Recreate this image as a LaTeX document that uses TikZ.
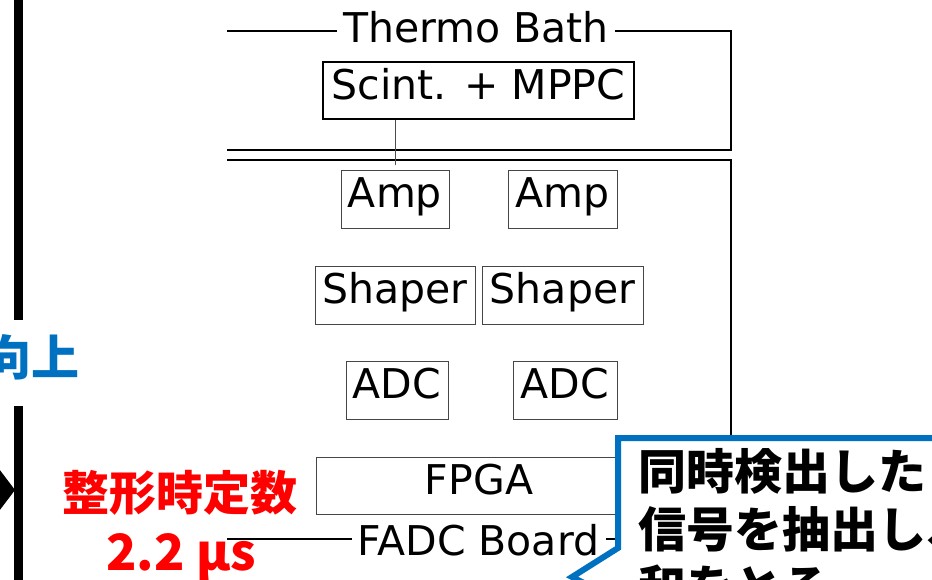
\documentclass[tikz,border=0pt]{standalone}
\usepackage{fontspec}
\setmainfont{DejaVu Sans}
\newfontfamily\jp{Noto Sans CJK JP}
\definecolor{slideblue}{HTML}{0070C0}
\definecolor{slidered}{HTML}{FF0000}
\begin{document}
\begin{tikzpicture}[x=1pt,y=-1pt,
  blk/.style={draw=gray!55!black, line width=0.9pt, inner sep=0pt, minimum height=58pt,
    font=\fontsize{41}{41}\selectfont, text height=30pt, text depth=13pt},
  frameline/.style={draw=black, line width=1.3pt},
  title/.style={inner sep=6pt, font=\fontsize{41}{41}\selectfont},
  jpred/.style={text=slidered, font=\jp\bfseries\fontsize{47}{47}\selectfont, inner sep=0pt},
  jpblack/.style={text=black, font=\jp\bfseries\fontsize{48}{48}\selectfont, inner sep=0pt, anchor=base west},
  link/.style={draw=gray!60!black, line width=0.8pt}]
\useasboundingbox (0,0) rectangle (932,579);
\clip (0,0) rectangle (932,579);

% left thick line and arrow head
\draw[line width=8.5pt] (18.5,-5) -- (18.5,320);
\draw[line width=8.5pt] (18.5,406) -- (18.5,590);
\fill (-10,457) -- (15,490) -- (-10,523) -- cycle;

% Japanese side labels
\node[anchor=base east, text=slideblue, font=\jp\bfseries\fontsize{48}{48}\selectfont, inner sep=0pt] (kojo) at (80,375) {向上};
\node[jpred, anchor=base] (seikei) at (180,510) {整形時定数};
\node[jpred, anchor=base, font=\jp\bfseries\fontsize{50}{50}\selectfont] (tau) at (181,570) {2.2 μs};

% Thermo bath frame
\node[title, text height=30pt, text depth=8pt] (thermo) at (476,31) {Thermo Bath};
\draw[frameline] (227,31) -- (thermo.west);
\draw[frameline] (thermo.east) -- (731,31) -- (731,150) -- (227,150);

% FADC board frame
\node[title, text height=32pt, text depth=0pt] (fadc) at (478.5,539) {FADC Board};
\draw[frameline] (227,160) -- (731,160) -- (731,445);
\draw[frameline] (227,539) -- (fadc.west);
\draw[frameline] (fadc.east) -- (640,539);

% boxes
\node[blk, draw=black, line width=1.6pt, minimum width=311pt, minimum height=57pt] (scint) at (478.5,90.5) {Scint. + MPPC};
\node[blk, minimum width=108pt] (amp1) at (395,199) {Amp};
\node[blk, minimum width=109pt] (amp2) at (562.5,199) {Amp};
\node[blk, minimum width=160pt] (sh1) at (395,295) {Shaper};
\node[blk, minimum width=161pt] (sh2) at (562.5,295) {Shaper};
\node[blk, minimum width=102pt] (adc1) at (397,390) {ADC};
\node[blk, minimum width=104pt] (adc2) at (565,390) {ADC};
\node[blk, minimum width=326pt, minimum height=57pt] (fpga) at (479,485.5) {FPGA};

\draw[link] (scint.south -| amp1) -- ++(0,45);

% callout
\draw[draw=slideblue, line width=6pt, fill=white, line join=miter]
  (945,438) -- (618,438) -- (618,548) -- (572,577) -- (618,600) -- (618,620) -- (945,620) -- cycle;
\node[jpblack] (call1) at (638,489) {同時検出した};
\node[jpblack] (call2) at (638,547) {信号を抽出し、};
\node[jpblack] (call3) at (638,605) {和をとる};
\end{tikzpicture}
\end{document}
